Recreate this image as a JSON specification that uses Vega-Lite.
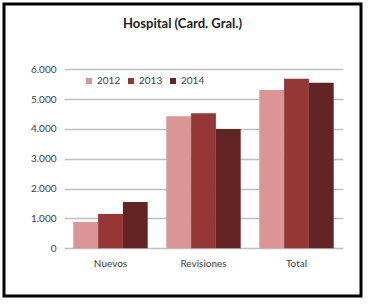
{
  "$schema": "https://vega.github.io/schema/vega-lite/v6.json",
  "width": 357,
  "height": 292,
  "autosize": {"type": "none"},
  "padding": {"left": 4, "top": 4, "right": 9, "bottom": 8},
  "background": "white",
  "title": {
    "text": "Hospital (Card. Gral.)",
    "font": "Lato",
    "fontSize": 13,
    "fontWeight": "bold",
    "color": "#1a1a1a",
    "anchor": "middle",
    "frame": "group",
    "dy": 31
  },
  "data": {
    "values": [
      {"categoria": "Nuevos", "anio": "2012", "valor": 880},
      {"categoria": "Nuevos", "anio": "2013", "valor": 1150},
      {"categoria": "Nuevos", "anio": "2014", "valor": 1550},
      {"categoria": "Revisiones", "anio": "2012", "valor": 4430},
      {"categoria": "Revisiones", "anio": "2013", "valor": 4530},
      {"categoria": "Revisiones", "anio": "2014", "valor": 4000},
      {"categoria": "Total", "anio": "2012", "valor": 5310},
      {"categoria": "Total", "anio": "2013", "valor": 5680},
      {"categoria": "Total", "anio": "2014", "valor": 5550}
    ]
  },
  "mark": {"type": "bar"},
  "encoding": {
    "x": {
      "field": "categoria",
      "type": "nominal",
      "sort": ["Nuevos", "Revisiones", "Total"],
      "scale": {"range": [60, 339], "paddingInner": 0.2, "paddingOuter": 0.1},
      "axis": {
        "title": null,
        "labelAngle": 0,
        "domain": false,
        "ticks": false,
        "grid": false,
        "offset": -48,
        "labelPadding": 10,
        "labelFont": "Lato",
        "labelFontSize": 10,
        "labelColor": "#404040"
      }
    },
    "xOffset": {
      "field": "anio",
      "type": "nominal",
      "scale": {"paddingInner": 0, "paddingOuter": 0}
    },
    "y": {
      "field": "valor",
      "type": "quantitative",
      "scale": {"domain": [0, 6000], "nice": false, "range": [244.3, 65.3]},
      "axis": {
        "title": null,
        "values": [0, 1000, 2000, 3000, 4000, 5000, 6000],
        "labelExpr": "replace(format(datum.value, ','), ',', '.')",
        "domain": false,
        "ticks": false,
        "grid": true,
        "gridColor": "#bfbfbf",
        "gridWidth": 1.5,
        "offset": -57,
        "labelPadding": 5,
        "labelFont": "Lato",
        "labelFontSize": 10,
        "labelColor": "#404040"
      }
    },
    "color": {
      "field": "anio",
      "type": "nominal",
      "scale": {"domain": ["2012", "2013", "2014"], "range": ["#d99694", "#953735", "#632523"]},
      "legend": {
        "title": null,
        "orient": "none",
        "direction": "horizontal",
        "legendX": 80,
        "legendY": 72,
        "symbolType": "square",
        "symbolSize": 36,
        "symbolStrokeWidth": 0,
        "labelFont": "Lato",
        "labelFontSize": 10,
        "labelColor": "#404040",
        "labelOffset": 3,
        "columnPadding": 5
      }
    }
  },
  "config": {
    "view": {"stroke": "#000000", "strokeWidth": 3}
  }
}
